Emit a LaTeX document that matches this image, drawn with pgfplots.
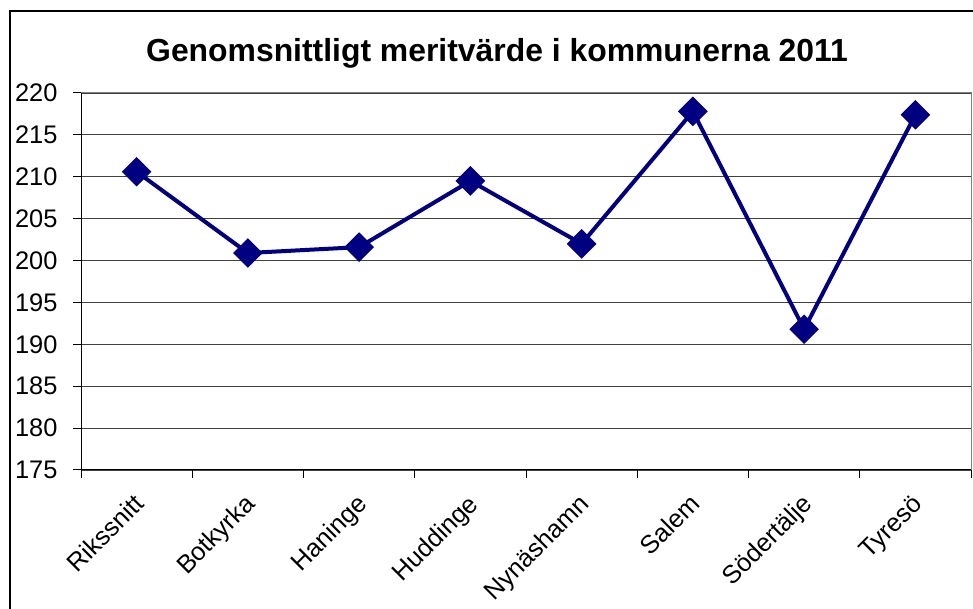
\documentclass[border=0pt]{standalone}
\usepackage{fontspec}
\setmainfont{Liberation Sans}
\usepackage{pgfplots}
\pgfplotsset{compat=1.18}
\definecolor{navyline}{RGB}{0,0,128}
\pgfplotstableread{
x y
0.5 210.6
1.5 200.9
2.5 201.6
3.5 209.5
4.5 202.0
5.5 217.8
6.5 191.8
7.5 217.4
}\meritdata
\begin{document}
\begin{tikzpicture}[x=1bp,y=1bp]
\useasboundingbox (0,0) rectangle (973,609);
\begin{scope}
\clip (0,0) rectangle (973,609);
\draw[line width=2.6bp] (10,-20) -- (10,598) -- (1000,598);
\end{scope}
\node[font=\fontsize{32}{38}\selectfont\bfseries, anchor=base] at (497,547) {Genomsnittligt meritvärde i kommunerna 2011};
\begin{axis}[
  at={(81bp,139bp)}, anchor=south west,
  scale only axis, width=890bp, height=377bp,
  xmin=0, xmax=8, ymin=175, ymax=220,
  ytick={175,180,...,220},
  xtick={0,...,8}, xticklabels={},
  extra x ticks={0.5,1.5,...,7.5},
  extra x tick labels={Rikssnitt,Botkyrka,Haninge,Huddinge,Nynäshamn,Salem,Södertälje,Tyresö},
  extra x tick style={major tick length=0pt, tick label style={xshift=-4bp, yshift=-18bp, rotate=45, anchor=north east, font=\fontsize{25.5}{30}\selectfont}},
  xtick pos=bottom, ytick pos=left,
  tick align=outside, major tick length=8bp,
  tick style={black, line width=1bp},
  ymajorgrids,
  major grid style={black!75, line width=0.9bp},
  axis line style={draw=gray, line width=1bp},
  yticklabel style={xshift=-12bp},
  tick label style={font=\fontsize{25.5}{30}\selectfont},
  /pgf/number format/assume math mode=true,
]
\addplot[navyline, line width=4bp, mark=square*, mark size=8.5bp, mark options={rotate=45, solid, fill=navyline}] table[x=x,y=y] {\meritdata};
\draw[black, line width=1.2bp] (rel axis cs:0,1) -- (rel axis cs:0,0) -- (rel axis cs:1,0);
\end{axis}
\end{tikzpicture}
\end{document}
